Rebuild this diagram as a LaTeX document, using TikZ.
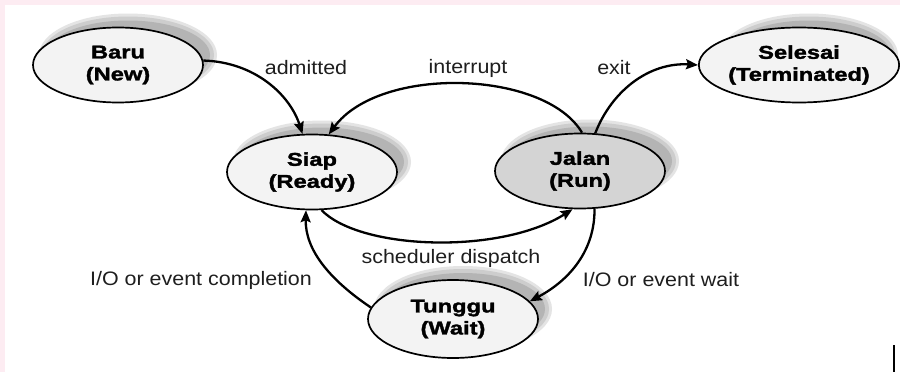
\documentclass[tikz,border=0pt]{standalone}
\usepackage{fontspec}
\setmainfont{Liberation Sans}
\newfontfamily\lblfont[FakeStretch=1.1]{Liberation Sans}
\newfontfamily\stfont[FakeStretch=1.28,FakeBold=1.8]{Liberation Sans Bold}
\usetikzlibrary{shapes.geometric,arrows.meta}
\definecolor{pinkc}{RGB}{253,236,242}
\definecolor{nodefill}{RGB}{243,243,243}
\definecolor{runfill}{RGB}{212,212,212}
\definecolor{shdA}{RGB}{228,228,228}
\definecolor{shdB}{RGB}{205,205,205}
\definecolor{shdC}{RGB}{180,180,180}
\definecolor{txtc}{RGB}{30,30,30}
\tikzset{
  state/.style={ellipse, draw=black, line width=1.7pt, fill=nodefill,
    minimum width=170pt, minimum height=75pt, inner sep=0pt, align=center,
    font=\stfont\fontsize{18.5}{22}\selectfont},
  trans/.style={line width=2.3pt, -{Stealth[length=12pt,width=10pt,inset=2pt]}},
  lbl/.style={font=\lblfont\fontsize{19.5}{22}\selectfont, text=txtc, inner sep=0pt}
}
\newcommand{\softshadow}[3]{%
  \fill[shdA] ([xshift=10pt,yshift=10pt]#1) ellipse [x radius=#2+4, y radius=#3+4];
  \fill[shdB] ([xshift=10pt,yshift=10pt]#1) ellipse [x radius=#2+1, y radius=#3+1];
  \fill[shdC] ([xshift=10pt,yshift=10pt]#1) ellipse [x radius=#2-3, y radius=#3-3];
}
\begin{document}
\begin{tikzpicture}[x=1pt,y=-1pt]
\useasboundingbox (0,0) rectangle (900,372);
\fill[pinkc] (0,0) rectangle (900,372);
\fill[white] (5,5) rectangle (900,372);

\coordinate (cbaru) at (118,65);
\coordinate (csiap) at (312,172);
\coordinate (cjalan) at (580,171);
\coordinate (cselesai) at (799,65);
\coordinate (ctunggu) at (453,319);

\softshadow{cbaru}{85}{37.5}
\softshadow{csiap}{85}{37.5}
\softshadow{cjalan}{85}{37.5}
\softshadow{cselesai}{85}{37.5}
\softshadow{ctunggu}{85}{39}

\node[state] (baru) at (cbaru) {Baru\\(New)};
\node[state] (siap) at (csiap) {Siap\\(Ready)};
\node[state, fill=runfill] (jalan) at (cjalan) {Jalan\\(Run)};
\node[state] (selesai) at (cselesai) {Selesai\\(Terminated)};
\node[state, minimum height=78pt] (tunggu) at (ctunggu) {Tunggu\\(Wait)};

\draw[trans] (baru.3) .. controls (255,62) and (290,95) .. (siap.104);
\draw[trans] (jalan.87) .. controls (545,70) and (380,65) .. (siap.66);
\draw[trans] (jalan.68) .. controls (612,90) and (650,62) .. (selesai.180);
\draw[trans] (siap.284) .. controls (360,250) and (500,255) .. (jalan.259);
\draw[trans] (jalan.291) .. controls (595,250) and (570,280) .. (tunggu.13);
\draw[trans] (tunggu.172) .. controls (330,280) and (305,250) .. (siap.261);

\node[lbl] (ladm) at (306,68) {admitted};
\node[lbl] (lint) at (468,68) {interrupt};
\node[lbl] (lexit) at (614,68) {exit};
\node[lbl] (ldisp) at (451,258) {scheduler dispatch};
\node[lbl] (lcomp) at (201,280) {I/O or event completion};
\node[lbl] (lwait) at (661,280) {I/O or event wait};

\coordinate (m1) at (894,345);
\coordinate (m2) at (894,372);
\draw[line width=2pt] (m1) -- (m2);
\end{tikzpicture}
\end{document}
